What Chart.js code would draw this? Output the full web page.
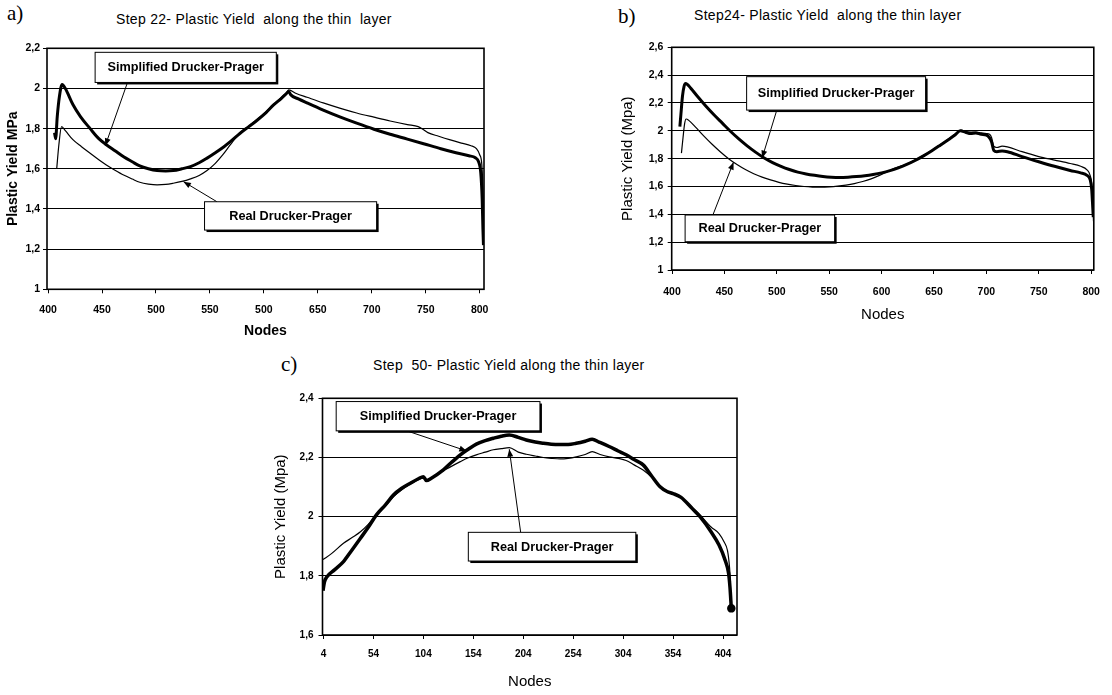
<!DOCTYPE html>
<html>
<head>
<meta charset="utf-8">
<script src="https://cdn.jsdelivr.net/npm/chart.js@4.4.0/dist/chart.umd.min.js"></script>
<style>
  body { margin: 0; background: #fff; width: 1112px; height: 695px; position: relative; overflow: hidden;
         font-family: "Liberation Sans", Arial, sans-serif; color: #000; }
  canvas { position: absolute; }
  .panel { position: absolute; font-family: "Liberation Serif", "DejaVu Serif", serif; font-size: 21px; line-height: 24px; }
  .title { position: absolute; font-size: 14px; line-height: 17px; letter-spacing: 0.3px; white-space: pre; }
</style>
</head>
<body>
<div class="panel" style="left:7px;top:1px">a)</div>
<div class="title" style="left:116px;top:11px">Step 22- Plastic Yield  along the thin  layer</div>
<div class="panel" style="left:618px;top:4px">b)</div>
<div class="title" style="left:694px;top:7px">Step24- Plastic Yield  along the thin layer</div>
<div class="panel" style="left:281px;top:352px">c)</div>
<div class="title" style="left:373px;top:357px">Step  50- Plastic Yield along the thin layer</div>

<canvas id="chartA" width="500" height="312" style="left:0;top:30px"></canvas>
<canvas id="chartB" width="512" height="300" style="left:600px;top:30px"></canvas>
<canvas id="chartC" width="500" height="315" style="left:260px;top:380px"></canvas>

<script>
// ---- a) Step 22 ----
const xTicksA = [400, 450, 500, 550, 600, 650, 700, 750, 800];
const xLabelsA = ['400', '450', '500', '550', '500', '650', '700', '750', '800'];
const yTicksA = [1, 1.2, 1.4, 1.6, 1.8, 2, 2.2];
const yLabelsA = ['1', '1,2', '1,4', '1,6', '1,8', '2', '2,2'];
const simpA_x = [406, 407, 408.5, 410.5, 413, 416, 423, 430, 439, 447, 454, 462, 470, 478, 485, 493, 501, 509, 516, 524,
  532, 540, 547, 555, 563, 570, 578, 586, 594, 602, 609, 616, 621, 623, 625, 632, 640, 655, 671, 686, 702, 717, 733,
  748, 764, 778, 790, 796, 799, 801, 802.3, 803, 803.5];
const simpA_y = [1.78, 1.75, 1.86, 1.96, 2.02, 2.0, 1.92, 1.86, 1.8, 1.75, 1.72, 1.69, 1.66, 1.635, 1.614, 1.6, 1.591, 1.589,
  1.591, 1.6, 1.611, 1.63, 1.652, 1.68, 1.71, 1.74, 1.777, 1.81, 1.843, 1.88, 1.918, 1.95, 1.975, 1.985, 1.968, 1.948,
  1.928, 1.892, 1.857, 1.827, 1.797, 1.772, 1.748, 1.725, 1.7, 1.68, 1.665, 1.655, 1.635, 1.58, 1.45, 1.3, 1.22];
const realA_x = [408, 410, 412.5, 416, 423, 431, 439, 447, 454, 462, 470, 478, 485, 493, 501, 509, 516, 524, 532, 540, 547,
  555, 562, 569, 578, 586, 594, 602, 609, 616, 621, 623, 630, 640, 655, 671, 686, 702, 717, 733, 743, 748, 752, 762,
  772, 783, 792, 797, 800, 802, 803.3, 804];
const realA_y = [1.6, 1.72, 1.81, 1.79, 1.745, 1.71, 1.677, 1.645, 1.619, 1.593, 1.569, 1.549, 1.533, 1.524, 1.52, 1.522,
  1.528, 1.537, 1.55, 1.567, 1.59, 1.627, 1.67, 1.72, 1.78, 1.813, 1.847, 1.884, 1.921, 1.954, 1.98, 1.993, 1.975,
  1.956, 1.928, 1.901, 1.878, 1.857, 1.838, 1.82, 1.81, 1.795, 1.78, 1.762, 1.745, 1.728, 1.715, 1.7, 1.67, 1.62, 1.45, 1.25];

// ---- b) Step 24 ----
const xTicksB = [400, 450, 500, 550, 600, 650, 700, 750, 800];
const xLabelsB = ['400', '450', '500', '550', '600', '650', '700', '750', '800'];
const yTicksB = [1, 1.2, 1.4, 1.6, 1.8, 2, 2.2, 2.4, 2.6];
const yLabelsB = ['1', '1,2', '1,4', '1,6', '1,8', '2', '2,2', '2,4', '2,6'];
const simpB_x = [407.5, 408.5, 410, 411.5, 413, 418, 424, 432, 440, 448, 456, 464, 472, 480, 488, 496, 504, 512, 520, 528,
  536, 544, 552, 560, 568, 576, 584, 592, 600, 608, 616, 624, 632, 640, 648, 656, 664, 670, 675, 680, 685, 690, 695,
  700, 703, 705, 707, 710, 715, 720, 734, 750, 765, 780, 790, 796, 799, 800.5, 801.5, 802];
const simpB_y = [2.03, 2.12, 2.25, 2.32, 2.34, 2.305, 2.25, 2.18, 2.115, 2.055, 1.995, 1.94, 1.89, 1.845, 1.805, 1.772,
  1.745, 1.722, 1.703, 1.69, 1.68, 1.672, 1.667, 1.665, 1.667, 1.671, 1.677, 1.686, 1.698, 1.714, 1.734, 1.758, 1.787,
  1.82, 1.857, 1.897, 1.938, 1.97, 2.0, 1.99, 1.98, 1.985, 1.975, 1.97, 1.95, 1.92, 1.86, 1.85, 1.855, 1.85, 1.815,
  1.778, 1.745, 1.715, 1.698, 1.68, 1.65, 1.58, 1.45, 1.38];
const realB_x = [409, 410.5, 412, 413.5, 416, 422, 430, 438, 446, 454, 462, 470, 478, 486, 494, 502, 510, 518, 526, 534,
  542, 550, 558, 566, 574, 582, 590, 598, 606, 612, 618, 624, 632, 640, 648, 656, 664, 670, 676, 680, 685, 690, 695,
  700, 703, 705, 707, 710, 715, 720, 734, 750, 765, 780, 790, 796, 799, 800.8, 801.7, 802.2];
const realB_y = [1.84, 1.95, 2.05, 2.085, 2.075, 2.03, 1.965, 1.905, 1.85, 1.8, 1.758, 1.722, 1.692, 1.667, 1.647, 1.63,
  1.617, 1.607, 1.6, 1.596, 1.595, 1.597, 1.602, 1.61, 1.621, 1.636, 1.655, 1.68, 1.708, 1.73, 1.745, 1.762, 1.791,
  1.824, 1.861, 1.901, 1.942, 1.975, 2.005, 1.995, 1.99, 1.99, 1.985, 1.98, 1.975, 1.95, 1.89, 1.88, 1.89, 1.885, 1.85,
  1.815, 1.79, 1.765, 1.745, 1.72, 1.68, 1.6, 1.45, 1.35];

// ---- c) Step 50 ----
const xTicksC = [4, 54, 104, 154, 204, 254, 304, 354, 404];
const xLabelsC = ['4', '54', '104', '154', '204', '254', '304', '354', '404'];
const yTicksC = [1.6, 1.8, 2, 2.2, 2.4];
const yLabelsC = ['1,6', '1,8', '2', '2,2', '2,4'];
const simpC_x = [3.5, 5, 7.5, 15, 24, 32, 41, 49, 57, 66, 74, 82, 91, 99, 104, 107, 112, 124, 132, 141, 149, 157, 166, 174,
  182, 190, 199, 207, 216, 224, 232, 241, 249, 257, 266, 273, 280, 290, 299, 307, 315, 324, 332, 341, 348, 354, 362,
  373, 381, 392, 400, 406, 409.5, 411, 412.3];
const simpC_y = [1.75, 1.78, 1.797, 1.82, 1.848, 1.885, 1.927, 1.965, 2.006, 2.04, 2.073, 2.095, 2.113, 2.128, 2.135,
  2.122, 2.13, 2.158, 2.183, 2.209, 2.228, 2.245, 2.257, 2.265, 2.272, 2.276, 2.268, 2.259, 2.252, 2.248, 2.245, 2.244,
  2.244, 2.248, 2.255, 2.262, 2.252, 2.237, 2.222, 2.209, 2.193, 2.175, 2.14, 2.101, 2.085, 2.078, 2.065, 2.028, 2.0,
  1.949, 1.904, 1.854, 1.81, 1.76, 1.69];
const realC_x = [3.5, 12, 24, 33, 41, 49, 57, 66, 74, 82, 91, 99, 104, 108, 116, 124, 132, 141, 149, 157, 166, 174, 182,
  190, 199, 207, 216, 224, 232, 241, 249, 257, 266, 273, 281, 290, 299, 307, 315, 324, 332, 341, 348, 354, 362, 373,
  381, 392, 400, 405, 408.5, 410.5, 411.5];
const realC_y = [1.855, 1.875, 1.91, 1.93, 1.949, 1.975, 2.006, 2.036, 2.067, 2.09, 2.11, 2.125, 2.13, 2.125, 2.14, 2.155,
  2.17, 2.186, 2.199, 2.209, 2.218, 2.226, 2.23, 2.233, 2.218, 2.211, 2.205, 2.2, 2.197, 2.195, 2.197, 2.202, 2.21,
  2.22, 2.21, 2.202, 2.197, 2.19, 2.175, 2.158, 2.135, 2.101, 2.086, 2.079, 2.066, 2.032, 2.006, 1.965, 1.943, 1.915,
  1.885, 1.83, 1.78];

const FONT = '"Liberation Sans", Arial, sans-serif';
const pts = (xs, ys) => xs.map((x, i) => ({x: x, y: ys[i]}));

// plot frame, text boxes with shadow, and pointer arrows (all in data units)
const frame = {
    id: 'frame',
    afterDraw(chart, args, opts) {
        const {ctx, chartArea: a} = chart;
        const sx = chart.scales.x, sy = chart.scales.y;
        ctx.save();
        ctx.strokeStyle = '#000';
        ctx.lineWidth = 1.6;
        ctx.strokeRect(a.left, a.top, a.width, a.height);

        (opts.arrows || []).forEach(ar => {
            const x1 = sx.getPixelForValue(ar[0]), y1 = sy.getPixelForValue(ar[1]);
            const x2 = sx.getPixelForValue(ar[2]), y2 = sy.getPixelForValue(ar[3]);
            const ang = Math.atan2(y2 - y1, x2 - x1);
            ctx.lineWidth = 1;
            ctx.beginPath();
            ctx.moveTo(x1, y1);
            ctx.lineTo(x2, y2);
            ctx.stroke();
            ctx.beginPath();
            ctx.moveTo(x2, y2);
            ctx.lineTo(x2 - 8 * Math.cos(ang - 0.38), y2 - 8 * Math.sin(ang - 0.38));
            ctx.lineTo(x2 - 8 * Math.cos(ang + 0.38), y2 - 8 * Math.sin(ang + 0.38));
            ctx.closePath();
            ctx.fillStyle = '#000';
            ctx.fill();
        });

        (opts.boxes || []).forEach(b => {
            const l = sx.getPixelForValue(b.x1), r = sx.getPixelForValue(b.x2);
            const t = sy.getPixelForValue(b.y1), btm = sy.getPixelForValue(b.y2);
            ctx.fillStyle = '#000';
            ctx.fillRect(l + 2, t + 2, r - l, btm - t);
            ctx.fillStyle = '#fff';
            ctx.fillRect(l, t, r - l, btm - t);
            ctx.lineWidth = 1;
            ctx.strokeRect(l, t, r - l, btm - t);
            ctx.fillStyle = '#000';
            ctx.font = 'bold 12.7px ' + FONT;
            ctx.textAlign = 'center';
            ctx.textBaseline = 'middle';
            ctx.fillText(b.text, (l + r) / 2, (t + btm) / 2 + 0.5);
        });
        ctx.restore();
    }
};

function makeChart(id, c) {
    const last = c.simpX.length - 1;
    return new Chart(document.getElementById(id), {
        type: 'line',
        data: {
            datasets: [
                {data: pts(c.realX, c.realY), borderColor: '#000', borderWidth: 1.2, pointRadius: 0,
                    cubicInterpolationMode: 'monotone'},
                {data: pts(c.simpX, c.simpY), borderColor: '#000', borderWidth: c.thick, backgroundColor: '#000',
                    pointRadius: ctx => (c.endDot && ctx.dataIndex === last ? 2.5 : 0),
                    cubicInterpolationMode: 'monotone'}
            ]
        },
        options: {
            responsive: false,
            animation: false,
            events: [],
            layout: {padding: {top: c.padTop, right: c.padRight, left: 0, bottom: 0}},
            plugins: {
                legend: {display: false},
                tooltip: {enabled: false},
                frame: {boxes: c.boxes, arrows: c.arrows}
            },
            scales: {
                x: {
                    type: 'linear', min: c.xMin, max: c.xMax,
                    afterBuildTicks: s => { s.ticks = c.xTicks.map(v => ({value: v})); },
                    afterFit: s => { s.height = c.xHeight; },
                    grid: {display: true, drawOnChartArea: false, drawTicks: true, tickLength: 4, color: '#000'},
                    border: {display: false},
                    ticks: {callback: (v, i) => c.xLabels[i], autoSkip: false, maxRotation: 0, padding: c.xPad,
                        color: '#000', font: {family: FONT, size: c.tickSize, weight: 'bold'}},
                    title: {display: true, text: 'Nodes', color: '#000', padding: {top: 0, bottom: c.nodesPad},
                        font: {family: FONT, size: c.axisSize, weight: c.axisWeight}}
                },
                y: {
                    type: 'linear', min: c.yTicks[0], max: c.yTicks[c.yTicks.length - 1],
                    afterBuildTicks: s => { s.ticks = c.yTicks.map(v => ({value: v})); },
                    afterFit: s => { s.width = c.yWidth; },
                    grid: {color: '#000', lineWidth: 1, drawTicks: true, tickLength: 4},
                    border: {display: false},
                    ticks: {callback: (v, i) => c.yLabels[i], autoSkip: false, padding: c.yPad,
                        color: '#000', font: {family: FONT, size: c.tickSize, weight: 'bold'}},
                    title: {display: true, text: c.yTitle, color: '#000', padding: {top: c.yTitlePad, bottom: 0},
                        font: {family: FONT, size: c.axisSize, weight: c.axisWeight}}
                }
            }
        },
        plugins: [frame]
    });
}

window.addEventListener('load', () => {
    makeChart('chartA', {
        simpX: simpA_x, simpY: simpA_y, realX: realA_x, realY: realA_y,
        xTicks: xTicksA, xLabels: xLabelsA, yTicks: yTicksA, yLabels: yLabelsA,
        xMin: 399, xMax: 804, padTop: 18.3, padRight: 16, xHeight: 52.7, yWidth: 47,
        xPad: 10.5, yPad: 3, nodesPad: 2, yTitlePad: 5, tickSize: 10.5, thick: 3,
        axisSize: 14, axisWeight: 'bold',
        yTitle: 'Plastic Yield MPa',
        boxes: [
            {x1: 443.6, y1: 2.18, x2: 611.5, y2: 2.03, text: 'Simplified Drucker-Prager'},
            {x1: 545, y1: 1.436, x2: 704.5, y2: 1.295, text: 'Real Drucker-Prager'}
        ],
        arrows: [[473.6, 2.03, 453, 1.715], [556.5, 1.436, 525.5, 1.536]]
    });
    makeChart('chartB', {
        simpX: simpB_x, simpY: simpB_y, realX: realB_x, realY: realB_y,
        xTicks: xTicksB, xLabels: xLabelsB, yTicks: yTicksB, yLabels: yLabelsB,
        xMin: 399.7, xMax: 802.5, padTop: 17.3, padRight: 11, xHeight: 60, yWidth: 71.7,
        xPad: 12, yPad: 4.4, nodesPad: 6, yTitlePad: 19, tickSize: 10.5, thick: 3,
        axisSize: 15, axisWeight: 'normal',
        yTitle: 'Plastic Yield (Mpa)',
        boxes: [
            {x1: 471.2, y1: 2.389, x2: 642, y2: 2.149, text: 'Simplified Drucker-Prager'},
            {x1: 412.5, y1: 1.395, x2: 555.2, y2: 1.203, text: 'Real Drucker-Prager'}
        ],
        arrows: [[500, 2.149, 486, 1.805], [439, 1.395, 458.7, 1.775]]
    });
    makeChart('chartC', {
        simpX: simpC_x, simpY: simpC_y, realX: realC_x, realY: realC_y,
        xTicks: xTicksC, xLabels: xLabelsC, yTicks: yTicksC, yLabels: yLabelsC,
        xMin: 3, xMax: 418, padTop: 18.3, padRight: 23, xHeight: 60, yWidth: 62.5,
        xPad: 9.7, yPad: 5, nodesPad: 4.3, yTitlePad: 12, tickSize: 10, thick: 3.5, endDot: true,
        axisSize: 15, axisWeight: 'normal',
        yTitle: 'Plastic Yield (Mpa)',
        boxes: [
            {x1: 16.7, y1: 2.389, x2: 220.7, y2: 2.29, text: 'Simplified Drucker-Prager'},
            {x1: 149, y1: 1.947, x2: 316.7, y2: 1.85, text: 'Real Drucker-Prager'}
        ],
        arrows: [[87.4, 2.29, 147.4, 2.222], [201.4, 1.947, 190, 2.228]]
    });
});
</script>
</body>
</html>
